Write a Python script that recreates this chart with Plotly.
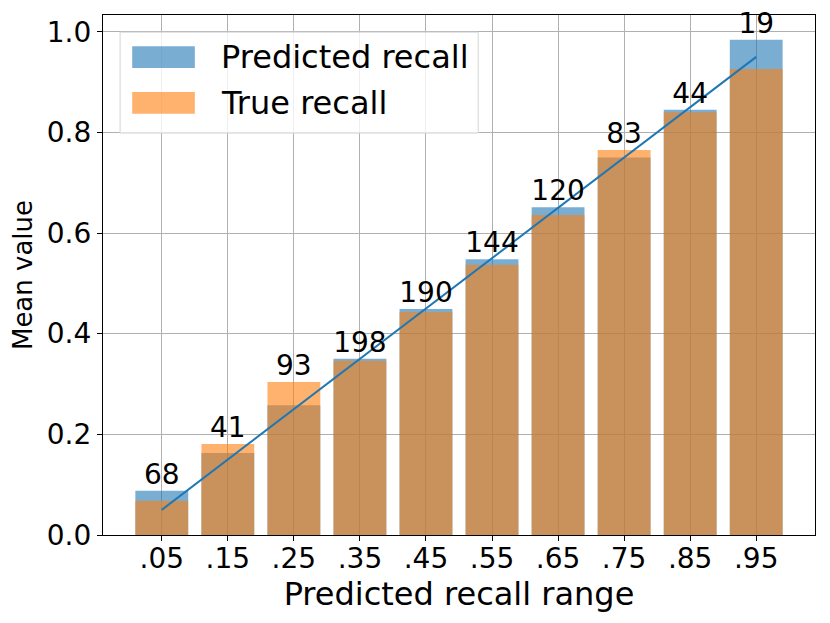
import plotly.graph_objects as go

# recall bins and per-bin means
bins = ['.05', '.15', '.25', '.35', '.45', '.55', '.65', '.75', '.85', '.95']
bin_centers = [0.05, 0.15, 0.25, 0.35, 0.45, 0.55, 0.65, 0.75, 0.85, 0.95]
predicted = [0.088, 0.163, 0.258, 0.350, 0.449, 0.548, 0.651, 0.750, 0.845, 0.984]
true_recall = [0.068, 0.181, 0.304, 0.346, 0.443, 0.537, 0.636, 0.765, 0.840, 0.926]
counts = [68, 41, 93, 198, 190, 144, 120, 83, 44, 19]

BLUE = 'rgba(31,119,180,0.6)'
ORANGE = 'rgba(255,127,14,0.6)'
FONT = 'DejaVu Sans'

x = list(range(len(bins)))
tops = [max(a, b) for a, b in zip(predicted, true_recall)]

fig = go.Figure()
fig.add_trace(go.Bar(x=x, y=predicted, name='Predicted recall', width=0.8,
                     marker=dict(color=BLUE, line=dict(width=0))))
fig.add_trace(go.Bar(x=x, y=true_recall, name='True recall', width=0.8,
                     marker=dict(color=ORANGE, line=dict(width=0))))
fig.add_trace(go.Scatter(x=x, y=bin_centers, mode='lines',
                         line=dict(color='#1f77b4', width=2), showlegend=False))
fig.add_trace(go.Scatter(x=x, y=tops, mode='text', text=[str(c) for c in counts],
                         textposition='top center', cliponaxis=False,
                         textfont=dict(size=28, color='black', family=FONT),
                         showlegend=False))

# legend drawn by hand to get matplotlib-sized patches
fig.add_shape(type='rect', xref='paper', yref='paper', x0=0.024, x1=0.527, y0=0.773, y1=0.967,
              fillcolor='rgba(255,255,255,0.8)', line=dict(color='#d5d5d5', width=1), layer='above')
for (y0, y1, col, label) in [(0.898, 0.940, BLUE, 'Predicted recall'),
                              (0.810, 0.852, ORANGE, 'True recall')]:
    fig.add_shape(type='rect', xref='paper', yref='paper', x0=0.041, x1=0.129, y0=y0, y1=y1,
                  fillcolor=col, line=dict(width=0), layer='above')
    fig.add_annotation(xref='paper', yref='paper', x=0.163, y=(y0 + y1) / 2, text=label,
                       showarrow=False, xanchor='left', yanchor='middle',
                       font=dict(size=32, color='black', family=FONT))

axis_common = dict(showline=True, linecolor='black', linewidth=1.3, mirror=True,
                   showgrid=True, gridcolor='#b0b0b0', gridwidth=1, zeroline=False,
                   ticks='outside', ticklen=5, tickcolor='black',
                   tickfont=dict(size=28, color='black', family=FONT))

# page body adds an 8px margin, so the figure is 8px smaller and margins shifted
fig.update_layout(
    width=822, height=615,
    margin=dict(l=95, r=15, t=7, b=88),
    barmode='overlay', bargap=0.2,
    plot_bgcolor='white', paper_bgcolor='white',
    showlegend=False,
    font=dict(family=FONT, color='black'),
    xaxis=dict(range=[-0.89, 9.89], tickmode='array', tickvals=x, ticktext=bins,
               ticklabelstandoff=-7,
               title=dict(text='Predicted recall range', font=dict(size=32), standoff=8),
               **axis_common),
    yaxis=dict(range=[0, 1.0332], tickmode='array', tickvals=[0, 0.2, 0.4, 0.6, 0.8, 1.0],
               ticktext=['0.0', '0.2', '0.4', '0.6', '0.8', '1.0'],
               title=dict(text='Mean value', font=dict(size=26), standoff=6),
               **axis_common),
)

fig.write_html("out.html")
